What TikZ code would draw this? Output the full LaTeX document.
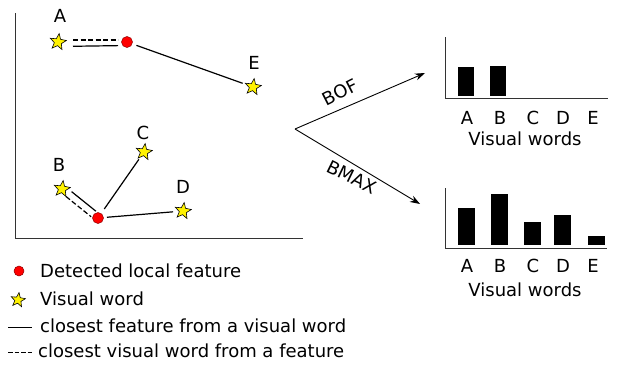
\documentclass[tikz,border=0pt]{standalone}
\usepackage{fontspec}
\setmainfont{DejaVu Sans}
\usetikzlibrary{shapes.geometric,arrows.meta}
\begin{document}
\begin{tikzpicture}[x=1pt,y=-1pt,
  word/.style={star,star points=5,star point ratio=2.3,draw=black,fill=yellow,
    line width=0.6pt,minimum size=17pt,inner sep=0pt,rotate=-8},
  smallword/.style={word,minimum size=15pt},
  feat/.style={circle,draw=red!55!black,fill=red,line width=0.5pt,
    minimum size=11pt,inner sep=0pt},
  txt/.style={font=\fontsize{18}{20}\selectfont,inner sep=0pt},
  axis/.style={line width=1pt,draw=black!80},
  link/.style={line width=1.2pt},
  dlink/.style={line width=1.2pt,dash pattern=on 5pt off 2.5pt},
  bar/.style={fill=black,draw=none},
  flow/.style={line width=0.9pt,-{Stealth[length=10pt,width=7pt]}}
]
\useasboundingbox (0,0) rectangle (618,364);

% --- feature space -------------------------------------------------
\coordinate (ax0) at (15,13);
\coordinate (axo) at (15,238);
\coordinate (ax1) at (303,238);
\draw[axis] (ax0) -- (axo) -- (ax1);

\node[word] (A) at (58,42) {};
\node[word] (E) at (253,87) {};
\node[word] (C) at (144,152) {};
\node[word] (B) at (62,189) {};
\node[word] (D) at (183,211) {};
\node[feat] (f1) at (127,42) {};
\node[feat] (f2) at (98,218) {};

\node[txt] (lA) at (60,16) {A};
\node[txt] (lE) at (254,63) {E};
\node[txt] (lC) at (143,133) {C};
\node[txt] (lB) at (59,165) {B};
\node[txt] (lD) at (183,187) {D};

% closest word from each feature (dashed) and closest feature from each word (solid)
\draw[dlink,shorten <=15pt,shorten >=9pt] ([yshift=2pt]A.center) -- ([yshift=2pt]f1.center);
\draw[link,shorten <=15pt,shorten >=9pt] ([yshift=-4.5pt]A.center) -- ([yshift=-3.5pt]f1.center);
\draw[link,shorten <=10pt,shorten >=11pt] (f1.center) -- (E.center);

\draw[link,shorten <=9pt,shorten >=6pt] ([xshift=2.6pt,yshift=3pt]B.center) -- ([xshift=2.6pt,yshift=3pt]f2.center);
\draw[dlink,shorten <=8pt,shorten >=6pt] ([xshift=-2.2pt,yshift=-2.5pt]B.center) -- ([xshift=-2.2pt,yshift=-2.5pt]f2.center);
\draw[link,shorten <=11pt,shorten >=9pt] (f2.center) -- (C.center);
\draw[link,shorten <=9pt,shorten >=10pt] (f2.center) -- (D.center);

% --- the two encodings ---------------------------------------------
\coordinate (split) at (295,129);
\coordinate (bofend) at (425,73);
\coordinate (bmaxend) at (420,204);
\draw[flow] (split) -- (bofend);
\draw[flow] (split) -- (bmaxend);
\node[txt,rotate=27] (bof) at (340,92) {BOF};
\node[txt,rotate=-26] (bmax) at (352,177) {BMAX};

% --- BOF histogram -------------------------------------------------
\coordinate (h1top) at (445,37);
\coordinate (h1o) at (445,98);
\coordinate (h1end) at (608,98);
\draw[axis] (h1top) -- (h1o) -- (h1end);
\fill[bar] (458,67) rectangle (474,96);
\fill[bar] (490,66) rectangle (506,96);
\node[txt] (h1A) at (467,118) {A};
\node[txt] (h1B) at (500,118) {B};
\node[txt] (h1C) at (533,118) {C};
\node[txt] (h1D) at (563,118) {D};
\node[txt] (h1E) at (593,118) {E};
\node[txt] (h1t) at (525,139) {Visual words};

% --- BMAX histogram ------------------------------------------------
\coordinate (h2top) at (445,188);
\coordinate (h2o) at (445,248);
\coordinate (h2end) at (607,248);
\draw[axis] (h2top) -- (h2o) -- (h2end);
\fill[bar] (458,208) rectangle (475,245);
\fill[bar] (491,194) rectangle (508,245);
\fill[bar] (524,222) rectangle (541,245);
\fill[bar] (554,215) rectangle (571,245);
\fill[bar] (588,236) rectangle (605,245);
\node[txt] (h2A) at (467,266) {A};
\node[txt] (h2B) at (500,266) {B};
\node[txt] (h2C) at (533,266) {C};
\node[txt] (h2D) at (563,266) {D};
\node[txt] (h2E) at (593,266) {E};
\node[txt] (h2t) at (525,290) {Visual words};

% --- legend --------------------------------------------------------
\node[feat,minimum size=10pt] (kf) at (19,271) {};
\node[txt,anchor=west] (kft) at (40,271) {Detected local feature};
\node[smallword] (kw) at (18,300) {};
\node[txt,anchor=west] (kwt) at (40,299) {Visual word};
\coordinate (ks0) at (8,327);
\coordinate (ks1) at (32,327);
\draw[line width=1pt] (ks0) -- (ks1);
\node[txt,anchor=west] (kst) at (40,326) {closest feature from a visual word};
\coordinate (kd0) at (8,352);
\coordinate (kd1) at (32,352);
\draw[line width=1pt,dash pattern=on 4.5pt off 2pt] (kd0) -- (kd1);
\node[txt,anchor=west] (kdt) at (38,351) {closest visual word from a feature};
\end{tikzpicture}
\end{document}
